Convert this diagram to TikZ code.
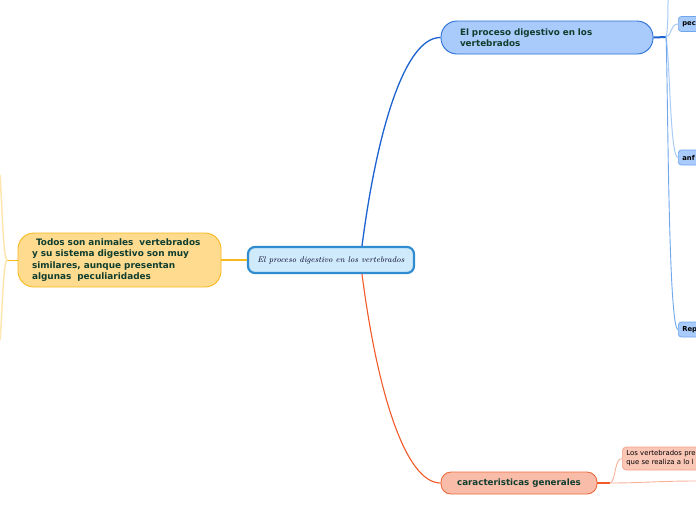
\documentclass[tikz,border=0pt]{standalone}
\usepackage{fontspec}
\setmainfont{DejaVu Sans}
\newfontfamily\lmfont{Latin Modern Roman}
\definecolor{txt}{HTML}{0F3D2E}
\definecolor{cfill}{HTML}{CFEAFB}
\definecolor{cdraw}{HTML}{2E8CCF}
\definecolor{bfill}{HTML}{A9CBFB}
\definecolor{bdraw}{HTML}{2A6FD6}
\definecolor{bline}{HTML}{1C62D0}
\definecolor{bthin}{HTML}{A8CAF6}
\definecolor{bthin2}{HTML}{6FA6EC}
\definecolor{ofill}{HTML}{FEDB8F}
\definecolor{odraw}{HTML}{F8B91C}
\definecolor{othin}{HTML}{FDE7AE}
\definecolor{sfill}{HTML}{F9BCA9}
\definecolor{sdraw}{HTML}{F06A40}
\definecolor{sline}{HTML}{F25A2A}
\definecolor{sthin}{HTML}{F8B39C}
\definecolor{schild}{HTML}{F3A287}
\tikzset{
  central/.style={draw=cdraw, line width=2.2pt, fill=cfill, rounded corners=7pt,
    minimum width=166pt, minimum height=26pt, inner sep=0pt,
    font=\lmfont\itshape\fontsize{8.2}{10}\selectfont, text=black!85!blue},
  bluebox/.style={draw=bdraw, line width=0.9pt, fill=bfill, rounded corners=16pt,
    minimum height=33pt, inner xsep=19pt, inner ysep=0pt, align=left,
    font=\bfseries\fontsize{8.8}{11}\selectfont, text=txt},
  orangebox/.style={draw=odraw, line width=0.9pt, fill=ofill, rounded corners=16pt,
    minimum height=54pt, inner xsep=14pt, inner ysep=0pt, align=left,
    font=\bfseries\fontsize{8.9}{11.3}\selectfont, text=txt},
  salmonbox/.style={draw=sdraw, line width=0.9pt, fill=sfill, rounded corners=10pt,
    minimum height=22pt, minimum width=156pt, inner sep=0pt,
    font=\bfseries\fontsize{8.7}{10}\selectfont, text=txt},
  bchild/.style={draw=bthin2, line width=0.7pt, fill=bfill, rounded corners=3pt,
    minimum height=15pt, inner xsep=4pt, inner ysep=0pt, anchor=west,
    font=\bfseries\fontsize{6.8}{8}\selectfont, text=black},
  schildbox/.style={draw=schild, line width=0.7pt, fill=sfill!85!white, rounded corners=4pt,
    minimum height=23pt, inner xsep=4pt, inner ysep=0pt, anchor=west, align=left,
    font=\fontsize{6.9}{9}\selectfont, text=black},
}
\begin{document}
\begin{tikzpicture}[x=1pt,y=-1pt]
\useasboundingbox (0,0) rectangle (696,520);
\clip (0,0) rectangle (696,520);
\fill[white] (0,0) rectangle (696,520);

% nodes
\node[central] (c) at (331,260) {El proceso digestivo en los vertebrados};
\node[bluebox, text width=174pt, minimum width=212pt] (b) at (547,37.5)
  {El proceso digestivo en los\\vertebrados};
\node[orangebox, text width=175pt, minimum width=203pt] (o) at (119.5,260)
  {\hspace*{4pt}Todos son animales\ \ vertebrados\\y su sistema digestivo son muy\\similares, aunque presentan\\algunas\ \ peculiaridades};
\node[salmonbox] (s) at (519,483) {caracteristicas generales};

% branch coordinates
\coordinate (bj) at (666,37);
\coordinate (btop) at (668,0);
\coordinate (oj) at (7,260);
\coordinate (otop) at (0,175);
\coordinate (obot) at (0,340);
\coordinate (sj) at (610,483);
\coordinate (sright) at (696,481);

% children (cut by the page edge, as in the reference)
\node[bchild, text width=30pt] (pe) at (678,24) {pec};
\node[bchild, text width=30pt] (an) at (678,157.5) {anf};
\node[bchild, text width=30pt] (re) at (678,329.5) {Rep};
\node[schildbox, text width=90pt] (sc) at (622,458.5) {Los vertebrados pre\\que se realiza a lo l};

% main connectors
\draw[bline, line width=1.3pt] (c.north) ++(31,0) coordinate (c1)
  .. controls (377,130) and (405,37) .. (b.west);
\draw[sline, line width=1.1pt] (c.south) ++(31,0) coordinate (c2)
  .. controls (377,390) and (405,483) .. (s.west);
\draw[odraw, line width=1.1pt] (c.west) -- (o.east);

% blue branches
\draw[bline, line width=2pt] (b.east) -- (bj);
\draw[bthin, line width=1pt] (bj) .. controls (668,30) and (668,10) .. (btop);
\draw[bthin, line width=1pt] (bj) .. controls (672,36) and (670,24) .. (pe.west);
\draw[bthin, line width=1pt] (bj) .. controls (670,60) and (670,157.5) .. (an.west);
\draw[bthin2, line width=0.9pt] (bj) .. controls (668,80) and (668,329.5) .. (re.west);

% orange branches
\draw[odraw, line width=1pt] (o.west) -- (oj);
\draw[othin, line width=1.5pt] (oj) .. controls (3,258) and (2,200) .. (otop);
\draw[othin, line width=1.5pt] (oj) .. controls (3,262) and (2,320) .. (obot);

% salmon branches
\draw[sline, line width=1.1pt] (s.east) -- (sj);
\draw[sthin, line width=0.9pt] (sj) .. controls (616,482) and (614,458.5) .. (sc.west);
\draw[sthin, line width=0.9pt] (sj) .. controls (640,483) and (660,481) .. (sright);
\end{tikzpicture}
\end{document}
